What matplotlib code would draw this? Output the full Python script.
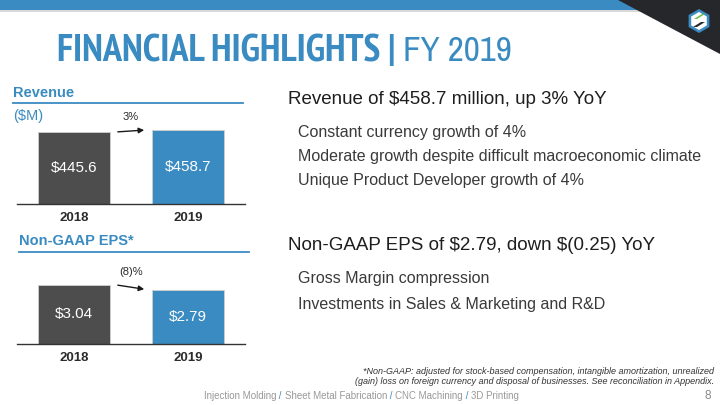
import matplotlib
matplotlib.use("Agg")
import matplotlib.pyplot as plt
from matplotlib import font_manager
from matplotlib.font_manager import FontProperties
from matplotlib.patches import Polygon, Rectangle, RegularPolygon

# ---- data ----
years = ["2018", "2019"]
revenue = [445.6, 458.7]
revenue_labels = ["$445.6", "$458.7"]
revenue_change = "3%"
eps = [3.04, 2.79]
eps_labels = ["$3.04", "$2.79"]
eps_change = "(8)%"

revenue_points = ["Constant currency growth of 4%",
                  "Moderate growth despite difficult macroeconomic climate",
                  "Unique Product Developer growth of 4%"]
eps_points = ["Gross Margin compression",
              "Investments in Sales & Marketing and R&D"]
footer_items = ["Injection Molding", "Sheet Metal Fabrication", "CNC Machining", "3D Printing"]

BLUE = "#3A8BC1"
DARK = "#4D4D4D"
TEXT = "#2B2B2B"

W, H = 720, 405
BODY = "Liberation Sans"
plt.rcParams["font.family"] = [BODY, "DejaVu Sans"]


def find_font(keys):
    # look for a condensed face among the installed files
    for f in font_manager.fontManager.ttflist:
        fn = f.fname.replace("-", "").replace("_", "").lower()
        if all(k in fn for k in keys):
            return f.fname
    return None


bold_c = find_font(["narrow", "bold"]) or find_font(["condensed", "bold"])
reg_c = find_font(["narrowregular"]) or find_font(["condensed"])
if bold_c:
    title_bold = FontProperties(fname=bold_c, size=27.5)
    title_reg = FontProperties(fname=reg_c or bold_c, size=27.5)
else:
    title_bold = FontProperties(family=BODY, weight="bold", size=20.5)
    title_reg = FontProperties(family=BODY, size=20.5)


def px(x, y):
    return x / W, 1 - y / H


fig = plt.figure(figsize=(7.2, 4.05), dpi=100)

# header band, dark corner and logo
bg = fig.add_axes([0, 0, 1, 1])
bg.set_xlim(0, W)
bg.set_ylim(H, 0)
bg.axis("off")
bg.add_patch(Rectangle((0, 0), W, 10, color=BLUE, lw=0))
bg.add_patch(Rectangle((0, 10), 640, 2, color="#D9D9D9", lw=0))
bg.add_patch(Polygon([(618, 0), (720, 0), (720, 54)], closed=True, color="#25272B", lw=0))
bg.add_patch(RegularPolygon((699, 21), 6, radius=12, color=BLUE, lw=0))
bg.add_patch(RegularPolygon((699, 21), 6, radius=9, color="white", lw=0))
bg.add_patch(Polygon([(694, 19), (702, 14), (705, 14), (697, 19)], closed=True, color="#6DBE45", lw=0))
bg.add_patch(Polygon([(693, 27), (701, 22), (705, 22), (697, 27)], closed=True, color="#25272B", lw=0))

# title
t = fig.text(*px(57, 51), "FINANCIAL HIGHLIGHTS | ", fontproperties=title_bold,
             color=BLUE, va="center", ha="left")
fig.canvas.draw()
bb = t.get_window_extent()
fig.text(bb.x1 / W, 1 - 51 / H, "FY 2019", fontproperties=title_reg,
         color=BLUE, va="center", ha="left")


def bar_panel(bottom_px, top_px, values, labels, change, title, subtitle, head_y, line_y):
    ax = fig.add_axes([17 / W, 1 - bottom_px / H, 228 / W, (bottom_px - top_px) / H])
    xs = range(len(values))
    ax.bar(xs, values, width=0.64, color=[DARK, BLUE], edgecolor="#CFCFCF", linewidth=0.6)
    for x, v, lab in zip(xs, values, labels):
        ax.text(x, v / 2, lab, ha="center", va="center", color="white", fontsize=11)
    ax.annotate("", xy=(0.64, values[1]), xytext=(0.36, values[0]),
                arrowprops=dict(arrowstyle="-|>", color="#1A1A1A", lw=1, mutation_scale=8))
    ax.annotate(change, xy=(0.5, max(values)), xytext=(0, 9), textcoords="offset points",
                ha="center", va="center", fontsize=8, color=TEXT)
    ax.set_xlim(-0.5, 1.5)
    ax.set_ylim(0, max(values) * 1.35)
    ax.set_xticks(list(xs))
    ax.set_xticklabels(years, fontsize=9.5, color=TEXT, weight="bold")
    ax.tick_params(axis="x", length=0, pad=6)
    ax.set_yticks([])
    for s in ["top", "right", "left"]:
        ax.spines[s].set_visible(False)
    ax.spines["bottom"].set_color("#333333")
    ax.spines["bottom"].set_linewidth(1)
    ax.patch.set_alpha(0)
    fig.text(*px(title[1], head_y), title[0], fontsize=10.5, color=BLUE, weight="bold",
             va="center", ha="left")
    bg.plot([title[1], title[1] + 230], [line_y, line_y], color=BLUE, lw=1.3)
    if subtitle:
        fig.text(*px(13, 116), subtitle, fontsize=10.5, color=BLUE, va="center", ha="left")
    return ax


bar_panel(204, 104, revenue, revenue_labels, revenue_change, ("Revenue", 13), "($M)", 93, 103)
bar_panel(344, 264, eps, eps_labels, eps_change, ("Non-GAAP EPS*", 19), None, 241, 252)

# right-hand commentary
fig.text(*px(288, 99), r"Revenue of \$458.7 million, up 3% YoY", fontsize=13.5,
         color="#1E1E1E", va="center", ha="left")
for i, line in enumerate(revenue_points):
    fig.text(*px(298, 132 + 24.5 * i), line, fontsize=11.5, color="#3A3A3A", va="center", ha="left")
fig.text(*px(288, 245), r"Non-GAAP EPS of \$2.79, down \$(0.25) YoY", fontsize=13.5,
         color="#1E1E1E", va="center", ha="left")
for i, line in enumerate(eps_points):
    fig.text(*px(298, 279 + 25 * i), line, fontsize=11.5, color="#3A3A3A", va="center", ha="left")

# footnote
fig.text(*px(714, 372), "*Non-GAAP: adjusted for stock-based compensation, intangible amortization, unrealized",
         fontsize=6.5, style="italic", color="#333333", ha="right", va="center")
fig.text(*px(714, 382), "(gain) loss on foreign currency and disposal of businesses. See reconciliation in Appendix.",
         fontsize=6.5, style="italic", color="#333333", ha="right", va="center")

# footer with blue separators
x = 204 / W
for i, item in enumerate(footer_items):
    t = fig.text(x, 1 - 396 / H, item, fontsize=7, color="#999999", ha="left", va="center")
    fig.canvas.draw()
    x = t.get_window_extent().x1 / W
    if i < len(footer_items) - 1:
        s = fig.text(x, 1 - 396 / H, " / ", fontsize=7, color=BLUE, ha="left", va="center")
        fig.canvas.draw()
        x = s.get_window_extent().x1 / W
fig.text(*px(708, 396), "8", fontsize=8.5, color="#8A8A8A", ha="center", va="center")

fig.savefig("out.png", dpi=100)
